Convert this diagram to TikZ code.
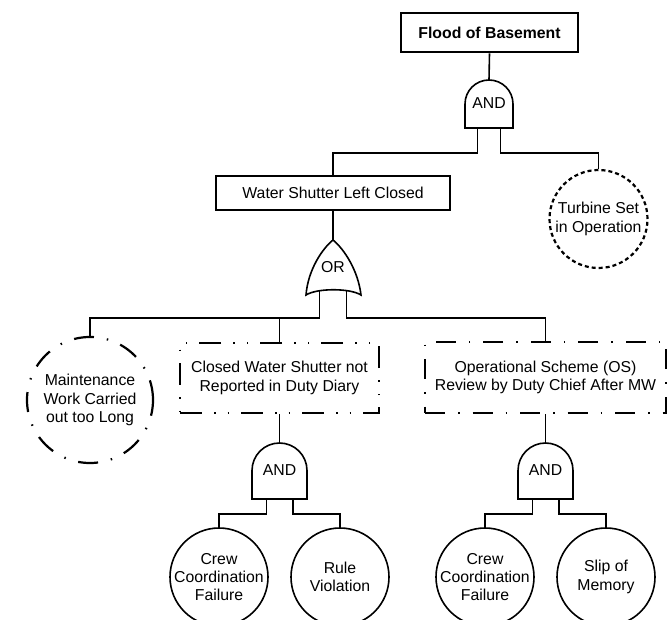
\documentclass[tikz,border=0pt]{standalone}
\usepackage{fontspec}
\setmainfont{Liberation Sans}
\newcommand{\andgate}[5]{% name, cx, ytop, w, h  (pixel units, y downwards)
  \pgfmathsetmacro\fgL{#2-#4/2}%
  \pgfmathsetmacro\fgR{#2+#4/2}%
  \pgfmathsetmacro\fgB{-(#3+#5)}%
  \pgfmathsetmacro\fgM{-(#3+#4/2)}%
  \pgfmathsetmacro\fgT{-#3}%
  \pgfmathsetmacro\fgr{#4/2}%
  \pgfmathsetmacro\fgo{#4*0.24}%
  \pgfmathsetmacro\fgy{-(#3+0.48*#5)}%
  \draw[gate] (\fgL,\fgB) -- (\fgL,\fgM) arc[start angle=180,end angle=0,radius=\fgr pt] -- (\fgR,\fgB) -- cycle;
  \coordinate (#1-in) at (#2,\fgT);
  \coordinate (#1-l) at (#2-\fgo,\fgB);
  \coordinate (#1-r) at (#2+\fgo,\fgB);
  \node (#1) at (#2,\fgy) {AND};
}
\begin{document}
\begin{tikzpicture}[x=1pt,y=1pt,
  every node/.style={font=\fontsize{15.8}{18.4}\selectfont, inner sep=0pt, align=center},
  conn/.style={line width=1.6pt},
  gate/.style={line width=1.6pt, fill=white},
  evbox/.style={draw, rectangle, line width=1.6pt},
  topbox/.style={draw, rectangle, line width=2.8pt, font=\fontsize{15.8}{18.4}\selectfont\bfseries},
  basic/.style={draw, circle, line width=1.6pt, minimum size=98pt},
  undev/.style={draw, circle, line width=2.2pt, dash pattern=on 4pt off 3pt},
  dashdot/.style={line width=2.2pt, dash pattern=on 20pt off 13pt on 1.5pt off 13pt},
  dashdotdot/.style={line width=2.2pt, dash pattern=on 22pt off 12pt on 1.5pt off 12pt on 1.5pt off 12pt},
]
\fill[white] (0,0) rectangle (672,-620);
\useasboundingbox (0,0) rectangle (672,-620);
\clip (0,0) rectangle (672,-620);

% events
\node[topbox, minimum width=177pt, minimum height=39pt] (top) at (489.5,-32.5) {Flood of Basement};
\node[evbox, minimum width=234pt, minimum height=34pt] (water) at (333,-193) {Water Shutter Left Closed};
\node[undev, minimum size=98pt] (turb) at (598.5,-219) {};
\node (turbt) at (turb) {Turbine Set\\in Operation};
\node[draw, circle, dashdot, minimum size=126pt] (maint) at (90,-400) {};
\node (maintt) at (maint) {Maintenance\\Work Carried\\out too Long};
\node[draw, rectangle, dashdotdot, minimum width=199pt, minimum height=70pt] (mid) at (279.5,-378) {Closed Water Shutter not\\Reported in Duty Diary};
\node[draw, rectangle, dashdot, minimum width=241pt, minimum height=71pt] (os) at (545.5,-377.5) {Operational Scheme (OS)\\Review by Duty Chief After MW};

\node[basic] (crew1) at (219,-577) {};
\node (crew1t) at (crew1) {Crew\\Coordination\\Failure};
\node[basic] (rule) at (340,-577) {};
\node (rulet) at (rule) {Rule\\Violation};
\node[basic] (crew2) at (485,-577) {};
\node (crew2t) at (crew2) {Crew\\Coordination\\Failure};
\node[basic] (slip) at (606,-577) {};
\node (slipt) at (slip) {Slip of\\Memory};

% gates
\andgate{g1}{489}{80}{48}{48}
\andgate{g2}{279.5}{443}{55}{56}
\andgate{g3}{545.5}{443}{55}{56}

\draw[gate] (306,-295) .. controls (308,-270) and (322,-249) .. (333,-240)
  .. controls (344,-249) and (358,-270) .. (361,-295)
  .. controls (350,-288) and (317,-288) .. (306,-295) -- cycle;
\coordinate (or-in) at (333,-240);
\coordinate (or-l) at (319.5,-291.5);
\coordinate (or-r) at (346.5,-291.5);
\node (or) at (333,-267) {OR};

% connectors
\draw[conn] (top.south) -- (g1-in);
\draw[conn] (g1-l) -- ++(0,-25) -| (water.north);
\draw[conn] (g1-r) -- ++(0,-25) -| (turb.north);
\draw[conn] (water.south) -- (or-in);
\draw[conn] (or-l) -- ++(0,-26.5) coordinate (orbus) -| (maint.north);
\draw[conn] (mid.north) -- (mid.north |- orbus);
\draw[conn] (or-r) -- ++(0,-26.5) -| (os.north);
\draw[conn] (mid.south) -- (g2-in);
\draw[conn] (g2-l) -- ++(0,-15) -| (crew1.north);
\draw[conn] (g2-r) -- ++(0,-15) -| (rule.north);
\draw[conn] (os.south) -- (g3-in);
\draw[conn] (g3-l) -- ++(0,-15) -| (crew2.north);
\draw[conn] (g3-r) -- ++(0,-15) -| (slip.north);
\end{tikzpicture}
\end{document}
